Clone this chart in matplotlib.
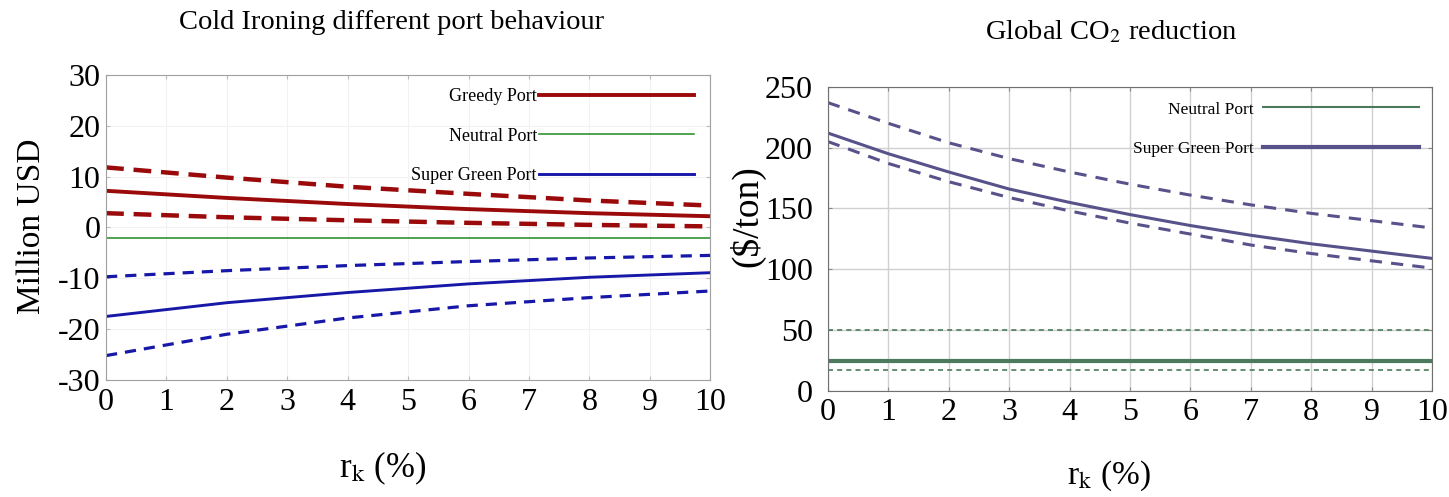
import matplotlib
matplotlib.use("Agg")
import matplotlib.pyplot as plt
from matplotlib.lines import Line2D

plt.rcParams["font.family"] = ["Liberation Serif", "DejaVu Serif"]
plt.rcParams["mathtext.fontset"] = "stix"
plt.rcParams["axes.unicode_minus"] = False

# ── data ────────────────────────────────────────────────────────────────────
rk = [0, 2, 4, 6, 8, 10]

greedy_mid = [7.2, 5.8, 4.6, 3.6, 2.8, 2.2]
greedy_hi = [11.8, 9.8, 8.0, 6.6, 5.3, 4.3]
greedy_lo = [2.8, 2.0, 1.4, 0.9, 0.5, 0.2]
neutral_left = [-2.0, -2.0, -2.0, -2.0, -2.0, -2.0]
sgreen_mid = [-17.5, -14.8, -12.8, -11.1, -9.8, -8.9]
sgreen_hi = [-9.7, -8.5, -7.5, -6.7, -6.0, -5.5]
sgreen_lo = [-25.2, -21.0, -17.8, -15.4, -13.8, -12.5]

rk_co2 = [0, 1, 2, 3, 4, 5, 6, 7, 8, 9, 10]
co2_mid = [212, 195, 180, 166, 155, 145, 136, 128, 121, 115, 109]
co2_hi = [237, 220, 204, 191, 180, 170, 161, 153, 146, 140, 134]
co2_lo = [205, 187, 172, 159, 148, 138, 129, 120, 113, 107, 101]
neutral_co2 = [25] * 11
neutral_co2_hi = [50] * 11
neutral_co2_lo = [17] * 11

RED = "#9b0a0a"
GREEN = "#1f8a1f"
BLUE = "#1818a8"
DGREEN = "#4c7a5c"
PURPLE = "#57528a"

fig = plt.figure(figsize=(14.49, 4.97), dpi=100)
ax1 = fig.add_axes([0.0732, 0.2354, 0.417, 0.614])
ax2 = fig.add_axes([0.5714, 0.2133, 0.4168, 0.612])

# ── left panel ──────────────────────────────────────────────────────────────
dash = (4, 2.2)
ax1.plot(rk, greedy_hi, color=RED, lw=3.2, dashes=dash)
ax1.plot(rk, greedy_lo, color=RED, lw=3.2, dashes=dash)
ax1.plot(rk, greedy_mid, color=RED, lw=2.8, label="Greedy Port")
ax1.plot(rk, neutral_left, color=GREEN, lw=1.1, label="Neutral Port")
ax1.plot(rk, sgreen_hi, color=BLUE, lw=2.3, dashes=(3.5, 2.5))
ax1.plot(rk, sgreen_lo, color=BLUE, lw=2.3, dashes=(3.5, 2.5))
ax1.plot(rk, sgreen_mid, color=BLUE, lw=2.1, label="Super Green Port")

ax1.set_xlim(0, 10)
ax1.set_ylim(-30, 30)
ax1.set_xticks(range(0, 11))
ax1.set_yticks(range(-30, 31, 10))
ax1.grid(True, color="#f2f2f2", lw=0.8)
for s in ax1.spines.values():
    s.set_color("#a0a0a0")
ax1.tick_params(direction="in", length=3, color="#bbbbbb", labelsize=23,
                top=True, right=True)
ax1.tick_params(axis="y", pad=4)
ax1.tick_params(axis="x", pad=6)
ax1.legend(loc="upper right", markerfirst=False, frameon=False, fontsize=13,
           handlelength=8.6, handletextpad=0.1, labelspacing=1.25,
           bbox_to_anchor=(0.985, 0.98), borderaxespad=0)

# ── right panel ─────────────────────────────────────────────────────────────
ax2.plot(rk_co2, co2_hi, color=PURPLE, lw=2.2, dashes=(4, 3))
ax2.plot(rk_co2, co2_lo, color=PURPLE, lw=2.2, dashes=(4, 3))
ax2.plot(rk_co2, co2_mid, color=PURPLE, lw=2.2)
ax2.plot(rk_co2, neutral_co2, color=DGREEN, lw=3.0)
ax2.plot(rk_co2, neutral_co2_hi, color=DGREEN, lw=1.2, dashes=(3, 2.5))
ax2.plot(rk_co2, neutral_co2_lo, color=DGREEN, lw=1.2, dashes=(3, 2.5))

ax2.set_xlim(0, 10)
ax2.set_ylim(0, 250)
ax2.set_xticks(range(0, 11))
ax2.set_yticks(range(0, 251, 50))
ax2.grid(True, color="#d0d0d0", lw=1.0)
for s in ax2.spines.values():
    s.set_color("#707070")
ax2.tick_params(direction="in", length=3, color="#888888", labelsize=23,
                top=True, right=True)
ax2.tick_params(axis="y", pad=11)
ax2.tick_params(axis="x", pad=5)
handles = [Line2D([], [], color=DGREEN, lw=1.5),
           Line2D([], [], color=PURPLE, lw=3.0)]
ax2.legend(handles, ["Neutral Port", "Super Green Port"], loc="upper right",
           markerfirst=False, frameon=False, fontsize=12.5,
           handlelength=9.0, handletextpad=0.5, labelspacing=1.35,
           bbox_to_anchor=(0.99, 0.975), borderaxespad=0)

# ── titles and axis labels ──────────────────────────────────────────────────
fig.text(0.270, 0.955, "Cold Ironing different port behaviour",
         ha="center", va="center", fontsize=20.5)
fig.text(0.767, 0.935, r"Global CO$_2$ reduction",
         ha="center", va="center", fontsize=20.5)
fig.text(0.022, 0.545, "Million USD", rotation=90, ha="center", va="center",
         fontsize=24)
fig.text(0.516, 0.565, "($/ton)", rotation=90, ha="center", va="center",
         fontsize=27)
fig.text(0.264, 0.058, r"r$_\mathrm{k}$ (%)", ha="center", va="center",
         fontsize=25)
fig.text(0.765, 0.042, r"r$_\mathrm{k}$ (%)", ha="center", va="center",
         fontsize=24)

fig.savefig("out.png", dpi=100)
